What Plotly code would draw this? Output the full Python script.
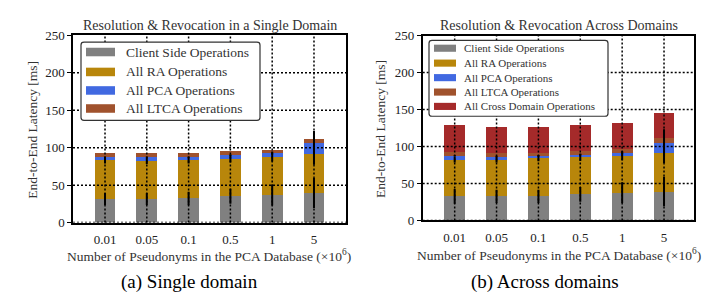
import plotly.graph_objects as go
import numpy as np

categories = ["0.01", "0.05", "0.1", "0.5", "1", "5"]
y_ticks = [0, 50, 100, 150, 200, 250]

# (a) Single domain  [ms]
sd_client = [31.4, 31.4, 32.2, 35.2, 36.9, 39.4]
sd_ra = [51.6, 50.8, 50.8, 50.0, 50.8, 51.7]
sd_pca = [4.3, 5.1, 4.3, 5.1, 5.1, 15.3]
sd_ltca = [6.3, 5.1, 5.1, 5.0, 4.7, 5.0]
sd_client_err = [8, 8, 9, 10, 14, 20]
sd_ra_err = [4, 4, 4, 5, 6, 14]
sd_pca_err = [1, 1, 1, 1, 2, 16]

# (b) Across domains  [ms]
ad_client = [32.7, 32.7, 32.7, 35.3, 37.8, 39.1]
ad_ra = [49.6, 49.6, 51.3, 50.0, 49.6, 52.6]
ad_pca = [5.1, 4.2, 3.4, 3.8, 4.3, 13.6]
ad_ltca = [5.5, 5.2, 4.3, 5.1, 5.1, 5.6]
ad_cross = [35.9, 34.6, 34.6, 34.6, 34.6, 34.6]
ad_client_err = [10, 9, 9, 10, 14, 20]
ad_ra_err = [4, 4, 4, 5, 6, 14]
ad_pca_err = [1, 1, 1, 1, 2, 18]

names = ["Client Side Operations", "All RA Operations", "All PCA Operations",
         "All LTCA Operations", "All Cross Domain Operations"]
colors = ["#808080", "#B8860B", "#4169E1", "#A0522D", "#A52A2A"]

FONT = "Liberation Serif"
W, H = 726, 295
x = list(range(len(categories)))

fig = go.Figure()

def add_panel(series, errs, xa, ya):
    for k, vals in enumerate(series):
        fig.add_trace(go.Bar(
            x=x, y=vals, name=names[k], marker=dict(color=colors[k], line=dict(width=0)),
            width=0.5, xaxis=xa, yaxis=ya, showlegend=False,
        ))
    cum = np.cumsum(np.array(series), axis=0)
    for k, e in enumerate(errs):
        fig.add_trace(go.Scatter(
            x=x, y=cum[k], mode="lines", line=dict(width=0, color="rgba(0,0,0,0)"),
            error_y=dict(type="data", array=e, visible=True, color="black", thickness=2, width=0),
            xaxis=xa, yaxis=ya, showlegend=False, hoverinfo="skip",
        ))

add_panel([sd_client, sd_ra, sd_pca, sd_ltca], [sd_client_err, sd_ra_err, sd_pca_err], "x", "y")
add_panel([ad_client, ad_ra, ad_pca, ad_ltca, ad_cross], [ad_client_err, ad_ra_err, ad_pca_err], "x2", "y2")

axis_common = dict(showline=True, mirror=True, linecolor="black", linewidth=1.5,
                   showgrid=False, zeroline=False, layer="above traces",
                   tickfont=dict(family=FONT, size=13, color="#222"))

fig.update_layout(
    width=W, height=H, margin=dict(l=0, r=0, t=0, b=0),
    paper_bgcolor="white", plot_bgcolor="white", barmode="stack",
    font=dict(family=FONT, color="#222"), showlegend=False,
    xaxis=dict(domain=[65/W, 338/W], range=[-0.766, 5.766], tickvals=x, ticktext=categories,
               ticks="", ticklabelstandoff=4, anchor="y", **axis_common),
    yaxis=dict(domain=[1-218.7/H, 1-21.5/H], range=[0, 250], tickvals=y_ticks,
               ticks="outside", ticklen=4, tickwidth=1.2, tickcolor="black", anchor="x", **axis_common),
    xaxis2=dict(domain=[414.7/W, 686/W], range=[-0.764, 5.716], tickvals=x, ticktext=categories,
                ticks="", ticklabelstandoff=4, anchor="y2", **axis_common),
    yaxis2=dict(domain=[1-216.5/H, 1-21.7/H], range=[0, 250], tickvals=y_ticks,
                ticks="outside", ticklen=4, tickwidth=1.2, tickcolor="black", anchor="x2", **axis_common),
)

# dotted grid drawn above the bars
shapes = []
for xa, ya in [("x", "y"), ("x2", "y2")]:
    for i in x:
        shapes.append(dict(type="line", xref=xa, yref=ya + " domain", x0=i, x1=i, y0=0, y1=1,
                           line=dict(color="black", width=1.5, dash="2px,2px"), layer="above"))
    for v in y_ticks[:-1]:
        shapes.append(dict(type="line", xref=xa + " domain", yref=ya, x0=0, x1=1, y0=v, y1=v,
                           line=dict(color="black", width=1.5, dash="2px,2px"), layer="above"))

ann = []
def text(s, xp, yp, size, angle=0, color="#333", xanchor="center"):
    ann.append(dict(text=s, x=xp/W, y=1-yp/H, xref="paper", yref="paper",
                    showarrow=False, xanchor=xanchor, yanchor="middle", textangle=angle,
                    font=dict(family=FONT, size=size, color=color)))

def px(xp):
    return xp / W

def py(yp):
    return 1 - yp / H

def rounded_box(x0, y0, x1, y1, r=3):
    rx, ry = r / W, r / H
    X0, X1, Y0, Y1 = px(x0), px(x1), py(y0), py(y1)
    p = (f"M{X0+rx},{Y0} L{X1-rx},{Y0} Q{X1},{Y0} {X1},{Y0-ry} "
         f"L{X1},{Y1+ry} Q{X1},{Y1} {X1-rx},{Y1} L{X0+rx},{Y1} Q{X0},{Y1} {X0},{Y1+ry} "
         f"L{X0},{Y0-ry} Q{X0},{Y0} {X0+rx},{Y0} Z")
    return dict(type="path", xref="paper", yref="paper", path=p, fillcolor="white",
                line=dict(color="#333", width=1.2), layer="above")

def legend(n, box, sw_x, sw_h, rows, text_x, size):
    shapes.append(rounded_box(*box))
    for k in range(n):
        shapes.append(dict(type="rect", xref="paper", yref="paper",
                           x0=px(sw_x[0]), x1=px(sw_x[1]),
                           y0=py(rows[k] - sw_h / 2), y1=py(rows[k] + sw_h / 2),
                           fillcolor=colors[k], line=dict(width=0), layer="above"))
        text(names[k], text_x, rows[k], size, 0, "#333", "left")

legend(4, (73, 28.5, 252, 111), (78, 107), 9, [39, 60, 79.5, 98.5], 116, 13.5)
legend(5, (421, 26.7, 600, 106.7), (426, 448), 7.5, [35, 50.7, 66, 81.2, 96.3], 454, 11)

fig.update_layout(shapes=shapes)

text("Resolution &amp; Revocation in a Single Domain", 201.5, 11.5, 14)
text("Resolution &amp; Revocation Across Domains", 551, 11.5, 14)
text("End-to-End Latency [ms]", 25, 121, 13.5, -90)
text("End-to-End Latency [ms]", 373, 120, 13.5, -90)
text("Number of Pseudonyms in the PCA Database (×10<sup>6</sup>)", 201, 253, 13.5)
text("Number of Pseudonyms in the PCA Database (×10<sup>6</sup>)", 551, 252, 13.5)
text("(a) Single domain", 182, 281.5, 19, 0, "black")
text("(b) Across domains", 536.5, 281, 19, 0, "black")
fig.update_layout(annotations=ann)

fig.write_html("out.html")
